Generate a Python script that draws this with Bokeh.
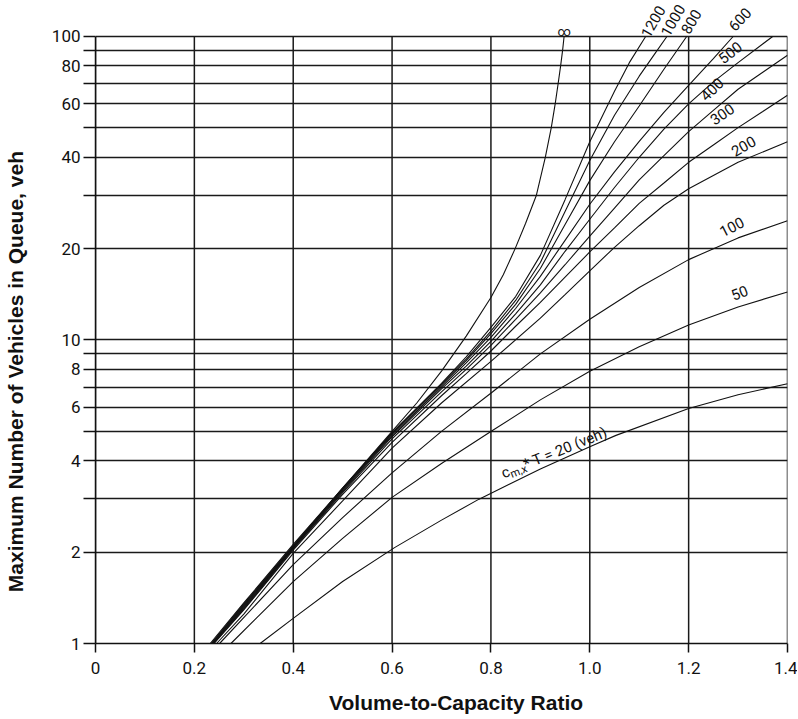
import math
from bokeh.plotting import figure
from bokeh.models import FixedTicker, CustomJSTickFormatter, Label
from bokeh.embed import file_html
from bokeh.resources import INLINE

# ---------------- data ----------------
X_TICKS = [0, 0.2, 0.4, 0.6, 0.8, 1.0, 1.2, 1.4]
Y_TICKS = [1, 2, 3, 4, 5, 6, 7, 8, 9, 10, 20, 30, 40, 50, 60, 70, 80, 90, 100]
Y_LABELLED = [1, 2, 4, 6, 8, 10, 20, 40, 60, 80, 100]
Y_MIN, Y_MAX = 1, 100

x_20 = [0.333, 0.40, 0.50, 0.605, 0.70, 0.776, 0.90, 1.00, 1.053, 1.20, 1.30, 1.40]
q_20 = [1.00, 1.21, 1.60, 2.07, 2.55, 2.99, 3.76, 4.45, 4.85, 5.95, 6.60, 7.18]

x_50 = [0.274, 0.40, 0.50, 0.60, 0.70, 0.803, 0.90, 1.00, 1.10, 1.20, 1.30, 1.40]
q_50 = [1.00, 1.60, 2.22, 3.03, 3.92, 5.03, 6.35, 7.89, 9.50, 11.2, 12.85, 14.4]

x_100 = [0.251, 0.40, 0.50, 0.60, 0.70, 0.803, 0.90, 1.00, 1.10, 1.20, 1.30, 1.40]
q_100 = [1.00, 1.82, 2.60, 3.65, 5.00, 6.74, 9.00, 11.7, 14.9, 18.4, 21.7, 24.7]

x_200 = [0.245, 0.30, 0.40, 0.50, 0.60, 0.70, 0.80, 0.90, 0.95, 1.00, 1.05, 1.10, 1.15, 1.20, 1.30, 1.40]
q_200 = [1.00, 1.25, 1.98, 2.95, 4.40, 6.20, 8.50, 11.8, 14.1, 16.9, 20.2, 23.8, 27.8, 31.5, 38.5, 45.0]

x_300 = [0.240, 0.30, 0.40, 0.50, 0.60, 0.70, 0.75, 0.80, 0.85, 0.90, 0.95, 1.00, 1.05, 1.10,
         1.15, 1.20, 1.25, 1.30, 1.35, 1.40]
q_300 = [1.00, 1.29, 2.03, 3.10, 4.60, 6.55, 7.75, 9.20, 11.1, 13.3, 16.1, 19.5, 23.4, 28.2,
         32.9, 38.5, 43.9, 50.1, 56.6, 64.0]

x_400 = [0.239, 0.30, 0.40, 0.50, 0.60, 0.70, 0.75, 0.80, 0.85, 0.90, 0.95, 1.00, 1.05, 1.10,
         1.15, 1.20, 1.25, 1.30, 1.35, 1.40]
q_400 = [1.00, 1.30, 2.05, 3.14, 4.72, 6.75, 8.00, 9.60, 11.7, 14.3, 17.7, 22.0, 27.2, 33.7,
         40.5, 48.6, 57.1, 67.0, 76.2, 86.7]

x_500 = [0.238, 0.30, 0.40, 0.50, 0.60, 0.70, 0.75, 0.80, 0.85, 0.90, 0.95, 1.00, 1.05, 1.10,
         1.15, 1.20, 1.25, 1.30, 1.37]
q_500 = [1.00, 1.31, 2.06, 3.17, 4.80, 6.90, 8.20, 9.90, 12.2, 15.2, 19.6, 25.0, 31.8, 40.0,
         49.5, 60.0, 70.9, 82.0, 100.0]

x_600 = [0.237, 0.30, 0.40, 0.50, 0.60, 0.70, 0.75, 0.80, 0.85, 0.90, 0.95, 1.00, 1.05, 1.10,
         1.15, 1.20, 1.25, 1.29]
q_600 = [1.00, 1.32, 2.07, 3.20, 4.85, 7.00, 8.40, 10.2, 12.7, 16.2, 21.3, 28.0, 35.8, 45.1,
         56.2, 69.0, 84.5, 100.0]

x_800 = [0.236, 0.30, 0.40, 0.50, 0.60, 0.70, 0.75, 0.80, 0.85, 0.90, 0.95, 1.00, 1.05, 1.10,
         1.15, 1.196]
q_800 = [1.00, 1.33, 2.08, 3.22, 4.90, 7.10, 8.55, 10.5, 13.1, 17.2, 24.0, 33.5, 45.0, 59.0,
         78.0, 100.0]

x_1000 = [0.235, 0.30, 0.40, 0.50, 0.60, 0.70, 0.75, 0.80, 0.85, 0.90, 0.95, 1.00, 1.05, 1.10,
          1.13, 1.156]
q_1000 = [1.00, 1.34, 2.09, 3.25, 4.93, 7.15, 8.65, 10.7, 13.5, 18.0, 26.5, 39.0, 55.0, 74.0,
          87.0, 100.0]

x_1200 = [0.234, 0.30, 0.40, 0.50, 0.60, 0.70, 0.75, 0.80, 0.85, 0.90, 0.95, 1.00, 1.05, 1.08,
          1.113]
q_1200 = [1.00, 1.35, 2.10, 3.25, 4.95, 7.20, 8.80, 11.0, 13.9, 19.0, 29.0, 45.0, 66.0, 82.0,
          100.0]

x_inf = [0.232, 0.30, 0.40, 0.50, 0.60, 0.65, 0.70, 0.75, 0.80, 0.825, 0.849, 0.87, 0.892,
         0.910, 0.922, 0.930, 0.936, 0.941, 0.945, 0.948]
q_inf = [1.00, 1.36, 2.12, 3.25, 5.00, 6.20, 7.90, 10.3, 13.8, 16.4, 20.0, 24.2, 30.0,
         40.0, 50.0, 60.0, 70.0, 80.0, 90.0, 100.0]

CURVES = [(x_20, q_20), (x_50, q_50), (x_100, q_100), (x_200, q_200), (x_300, q_300),
          (x_400, q_400), (x_500, q_500), (x_600, q_600), (x_800, q_800),
          (x_1000, q_1000), (x_1200, q_1200), (x_inf, q_inf)]

# curve labels: text, x, y (data units), angle (deg)
LABEL_TEXT = ["50", "100", "200", "300", "400", "500", "600", "800", "1000", "1200", "\u221e"]
LABEL_X = [1.303, 1.287, 1.311, 1.268, 1.247, 1.284, 1.3035, 1.205, 1.168, 1.128, 0.948]
LABEL_Y = [14.3, 23.6, 43.5, 55.5, 67.0, 88.5, 114.0, 112.0, 113.0, 112.0, 104.0]
LABEL_ANG = [22, 27, 30, 34, 44, 38, 47, 60, 60, 60, 0]

NBSP = "\u00a0"
X_TITLE = "Volume-to-Capacity Ratio"
Y_TITLE = "Maximum Number of Vehicles in Queue, veh"

# ---------------- figure ----------------
FONT = "Roboto"
TITLE_FONT = "Liberation Sans"
INK = "#111111"

p = figure(x_range=(0, 1.4), y_range=(1, 131.4), y_axis_type="log",
           frame_width=692, frame_height=643,
           min_border_left=95, min_border_top=0, min_border_right=10, min_border_bottom=75,
           output_backend="svg", toolbar_location=None)
p.background_fill_color = "white"
p.border_fill_color = "white"
p.outline_line_color = None

# horizontal grid lines from the axis grid; vertical ones only between 1 and 100
p.xgrid.visible = False
p.ygrid.ticker = FixedTicker(ticks=Y_TICKS)
p.ygrid.grid_line_color = "#1a1a1a"
p.ygrid.grid_line_width = 1.5
p.segment(x0=X_TICKS, y0=[Y_MIN] * len(X_TICKS), x1=X_TICKS, y1=[Y_MAX] * len(X_TICKS),
          line_color="#1a1a1a", line_width=1.5)

xa = p.xaxis[0]
ya = p.yaxis[0]
xa.ticker = FixedTicker(ticks=X_TICKS, minor_ticks=[])
ya.ticker = FixedTicker(ticks=Y_TICKS, minor_ticks=[])
ya.bounds = (Y_MIN, Y_MAX)
xa.formatter = CustomJSTickFormatter(code="return tick == 0 ? '0' : tick.toFixed(1);")
ya.formatter = CustomJSTickFormatter(
    args=dict(keep=Y_LABELLED),
    code="return keep.some(k => Math.abs(k - tick) < 1e-6) ? String(Math.round(tick)) : '';")

for ax in (xa, ya):
    ax.axis_line_color = INK
    ax.axis_line_width = 1.5
    ax.major_tick_line_color = INK
    ax.major_tick_line_width = 1.5
    ax.major_tick_in = 0
    ax.minor_tick_line_color = None
    ax.major_label_text_font = FONT
    ax.major_label_text_font_size = "17px"
    ax.major_label_text_color = INK
    ax.axis_label_text_font = TITLE_FONT
    ax.axis_label_text_font_style = "bold"
    ax.axis_label_text_font_size = "21px"
    ax.axis_label_text_color = INK

xa.major_tick_out = 9
xa.major_label_standoff = 9
# titles sit a little off-centre in the reference: pad with non-breaking spaces
xa.axis_label = NBSP * 5 + X_TITLE
xa.axis_label_standoff = 14

ya.major_tick_out = 12
ya.major_label_standoff = 3
ya.axis_label = Y_TITLE + NBSP * 17
ya.axis_label_standoff = 22

for xs, qs in CURVES:
    p.line(xs, qs, line_color=INK, line_width=1.1)

for t, lx, ly, ang in zip(LABEL_TEXT, LABEL_X, LABEL_Y, LABEL_ANG):
    p.add_layout(Label(x=lx, y=ly, text=t, angle=math.radians(ang),
                       text_align="center", text_baseline="middle",
                       text_font=FONT, text_font_size="15px" if t != "\u221e" else "13px",
                       text_color=INK))

# label on the cT = 20 curve: "c" with subscript "m,x", then "* T = 20 (veh)"
th = math.radians(22)
lx20, ly20 = 0.822, 3.62
parts = [("c", "15px", 0.0, 0.0), ("m,x", "11px", 8.0, -4.0), (" * T = 20 (veh)", "15px", 24.0, 0.0)]
for txt, fs, along, perp in parts:
    xo = along * math.cos(th) - perp * math.sin(th)
    yo = along * math.sin(th) + perp * math.cos(th)
    p.add_layout(Label(x=lx20, y=ly20, text=txt, angle=th, x_offset=xo, y_offset=yo,
                       text_align="left", text_baseline="alphabetic",
                       text_font=FONT, text_font_size=fs, text_color=INK))

open("out.html", "w").write(file_html(p, INLINE))
